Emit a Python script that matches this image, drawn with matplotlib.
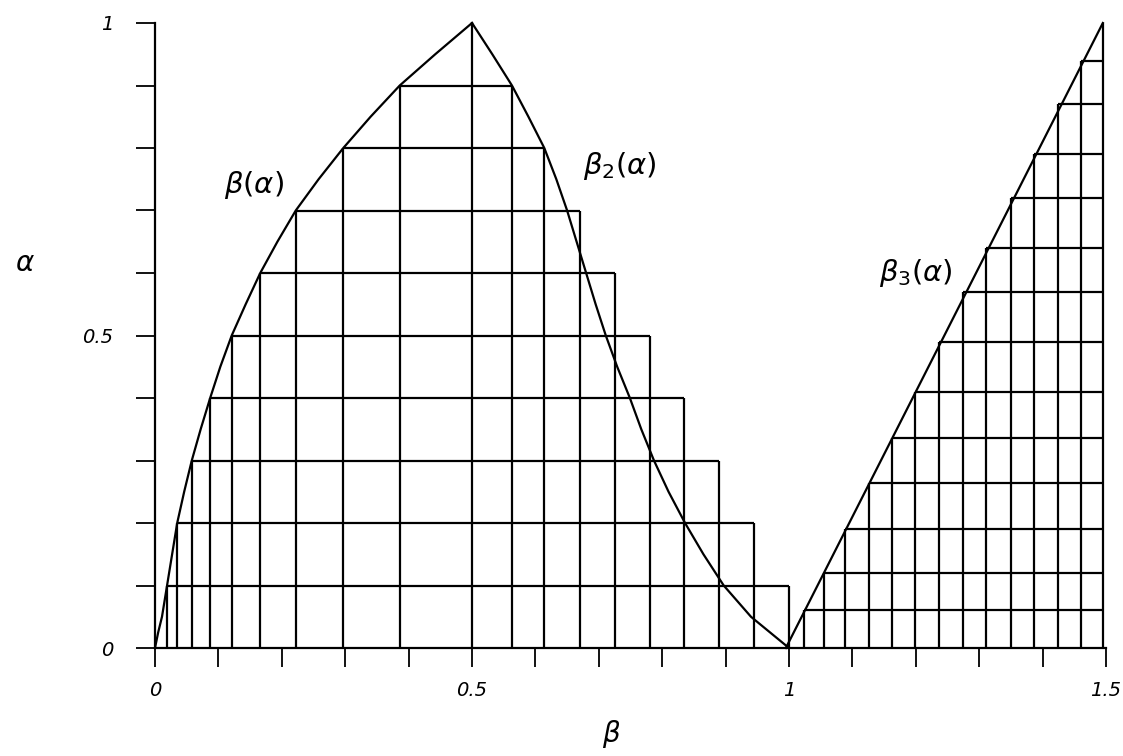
import numpy as np
import matplotlib
matplotlib.use("Agg")
import matplotlib.pyplot as plt

# staircase levels under the left hump
alpha_levels = [0.1, 0.2, 0.3, 0.4, 0.5, 0.6, 0.7, 0.8, 0.9]
beta_left = [0.019, 0.035, 0.058, 0.087, 0.121, 0.166, 0.222, 0.297, 0.386]
beta_right = [1.0, 0.945, 0.89, 0.834, 0.78, 0.726, 0.67, 0.614, 0.563]

# beta(alpha), rising branch
b1_beta = [0.0, 0.005, 0.011, 0.019, 0.027, 0.035, 0.046, 0.058, 0.072, 0.087,
           0.103, 0.121, 0.143, 0.166, 0.193, 0.222, 0.258, 0.297, 0.340,
           0.386, 0.442, 0.5]
b1_alpha = [0.0, 0.025, 0.05, 0.1, 0.15, 0.2, 0.25, 0.3, 0.35, 0.4, 0.45,
            0.5, 0.55, 0.6, 0.65, 0.7, 0.75, 0.8, 0.85, 0.9, 0.95, 1.0]

# beta_2(alpha), falling branch
b2_beta = [0.5, 0.532, 0.563, 0.589, 0.614, 0.633, 0.65, 0.665, 0.68, 0.695,
           0.711, 0.729, 0.749, 0.767, 0.787, 0.81, 0.836, 0.865, 0.897,
           0.94, 1.0]
b2_alpha = [1.0, 0.95, 0.9, 0.85, 0.8, 0.75, 0.7, 0.65, 0.6, 0.55, 0.5,
            0.45, 0.4, 0.35, 0.3, 0.25, 0.2, 0.15, 0.1, 0.05, 0.0]

# beta_3(alpha), straight line and its grid
b3_beta = [0.995, 1.495]
b3_alpha = [0.0, 1.0]
tri_beta = [1.024, 1.055, 1.089, 1.126, 1.162, 1.198, 1.236, 1.275, 1.311,
            1.350, 1.386, 1.425, 1.461]
tri_alpha = [0.061, 0.12, 0.19, 0.264, 0.336, 0.41, 0.49, 0.57, 0.64,
             0.72, 0.79, 0.87, 0.94]

x_ticks = np.arange(0, 1.51, 0.1)
x_labels = ["0", "", "", "", "", "0.5", "", "", "", "", "1", "", "", "", "", "1.5"]
y_ticks = np.arange(0, 1.01, 0.1)
y_labels = ["0", "", "", "", "", "0.5", "", "", "", "", "1"]

lw = 1.6
fig = plt.figure(figsize=(11.23, 7.56), dpi=100)
ax = fig.add_axes([0, 0, 1, 1])
ax.set_xlim(-0.2445, 1.5268)
ax.set_ylim(-0.1728, 1.0368)

# left region
ax.hlines(alpha_levels, beta_left, beta_right, color="k", lw=lw)
ax.vlines(beta_left, 0, alpha_levels, color="k", lw=lw)
ax.vlines(beta_right, 0, alpha_levels, color="k", lw=lw)
ax.vlines(0.5, 0, 1.0, color="k", lw=lw)
ax.plot(b1_beta, b1_alpha, color="k", lw=lw)
ax.plot(b2_beta, b2_alpha, color="k", lw=lw)

# right triangle
ax.plot(b3_beta, b3_alpha, color="k", lw=lw)
ax.hlines(tri_alpha, tri_beta, b3_beta[1], color="k", lw=lw)
ax.vlines(tri_beta, 0, tri_alpha, color="k", lw=lw)
ax.vlines(b3_beta[1], 0, b3_alpha[1], color="k", lw=lw)

# axes
for s in ["top", "right"]:
    ax.spines[s].set_visible(False)
ax.spines["left"].set_position(("data", 0))
ax.spines["bottom"].set_position(("data", 0))
ax.spines["left"].set_bounds(0, 1)
ax.spines["bottom"].set_bounds(0, 1.5)
ax.spines["left"].set_linewidth(lw)
ax.spines["bottom"].set_linewidth(lw)
ax.set_xticks(x_ticks)
ax.set_xticklabels(x_labels, fontsize=14, fontstyle="italic")
ax.set_yticks(y_ticks)
ax.set_yticklabels(y_labels, fontsize=14, fontstyle="italic")
ax.tick_params(axis="x", direction="out", length=14, width=1.3, pad=10)
ax.tick_params(axis="y", direction="out", length=14, width=1.3, pad=16)

ax.text(0.156, 0.741, r"$\beta(\alpha)$", fontsize=21, ha="center", va="center")
ax.text(0.733, 0.771, r"$\beta_2(\alpha)$", fontsize=21, ha="center", va="center")
ax.text(1.2, 0.60, r"$\beta_3(\alpha)$", fontsize=21, ha="center", va="center")
ax.text(-0.205, 0.616, r"$\alpha$", fontsize=20, ha="center", va="center")
ax.text(0.72, -0.138, r"$\beta$", fontsize=20, ha="center", va="center")

fig.savefig("out.png", dpi=100)
